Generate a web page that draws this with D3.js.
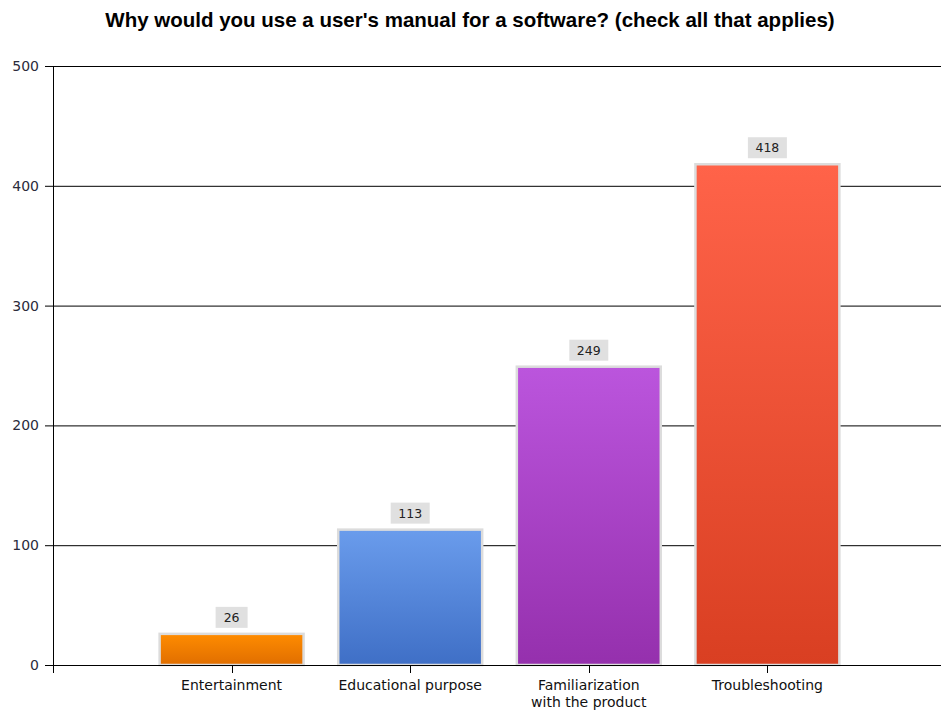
<!DOCTYPE html>
<html>
<head>
<meta charset="utf-8">
<script src="https://cdn.jsdelivr.net/npm/d3@7"></script>
<style>
  body { margin: 0; background: #fff; }
  text { font-family: "DejaVu Sans", sans-serif; }
  text.chart-title { font-family: "Liberation Sans", Arial, sans-serif; }
</style>
</head>
<body>
<div id="chart"></div>
<script>
const categories = ['Entertainment', 'Educational purpose', 'Familiarization\nwith the product', 'Troubleshooting'];
const counts = [26, 113, 249, 418];
const yTicks = [0, 100, 200, 300, 400, 500];
const barColors = [
    ['#ff8c00', '#e06e00'],
    ['#6a9cec', '#3f6fc6'],
    ['#bb55dd', '#9530ad'],
    ['#ff6349', '#d93f22']
];

const width = 941;
const height = 713;
const margin = { top: 66, right: 0, bottom: 48, left: 53 };

const svg = d3.select('#chart').append('svg')
    .attr('width', width)
    .attr('height', height);

const defs = svg.append('defs');
barColors.forEach((pair, index) => {
    const grad = defs.append('linearGradient')
        .attr('id', `bar-grad-${index}`)
        .attr('x1', 0).attr('y1', 0).attr('x2', 0).attr('y2', 1);
    grad.append('stop').attr('offset', '0%').attr('stop-color', pair[0]);
    grad.append('stop').attr('offset', '100%').attr('stop-color', pair[1]);
});

svg.append('text')
    .attr('class', 'chart-title')
    .attr('x', 470)
    .attr('y', 27)
    .attr('text-anchor', 'middle')
    .attr('font-size', 20.5)
    .attr('font-weight', 700)
    .attr('fill', '#000')
    .text("Why would you use a user's manual for a software? (check all that applies)");

const plotRight = 946;
const yScale = d3.scaleLinear()
    .domain([0, 500])
    .range([height - margin.bottom, margin.top]);

const xScale = d3.scalePoint()
    .domain(categories)
    .range([margin.left, plotRight])
    .padding(1);

const barWidth = xScale.step() * 0.806;

// gridlines
svg.append('g')
    .selectAll('line')
    .data(yTicks)
    .enter()
    .append('line')
    .attr('x1', margin.left - 8)
    .attr('x2', width)
    .attr('y1', (d) => yScale(d) + 0.5)
    .attr('y2', (d) => yScale(d) + 0.5)
    .attr('stroke', '#000')
    .attr('stroke-width', 1);

svg.append('g')
    .selectAll('text')
    .data(yTicks)
    .enter()
    .append('text')
    .attr('x', margin.left - 14)
    .attr('y', (d) => yScale(d))
    .attr('dy', '0.35em')
    .attr('text-anchor', 'end')
    .attr('font-size', 14)
    .attr('fill', '#2b2b3b')
    .text((d) => d);

// bars
const barGroup = svg.append('g');
barGroup.selectAll('rect')
    .data(counts)
    .enter()
    .append('rect')
    .attr('x', (d, i) => xScale(categories[i]) - barWidth / 2)
    .attr('y', (d) => yScale(d))
    .attr('width', barWidth)
    .attr('height', (d) => yScale(0) - yScale(d))
    .attr('fill', (d, i) => `url(#bar-grad-${i})`)
    .attr('stroke', '#dcdcdc')
    .attr('stroke-width', 2.5);

// axes lines on top
svg.append('line')
    .attr('x1', margin.left + 0.5).attr('x2', margin.left + 0.5)
    .attr('y1', margin.top).attr('y2', yScale(0) + 8)
    .attr('stroke', '#000');
svg.append('line')
    .attr('x1', margin.left - 8).attr('x2', width)
    .attr('y1', yScale(0) + 0.5).attr('y2', yScale(0) + 0.5)
    .attr('stroke', '#000');

svg.append('g')
    .selectAll('line')
    .data(categories)
    .enter()
    .append('line')
    .attr('x1', (d) => Math.round(xScale(d)) + 0.5)
    .attr('x2', (d) => Math.round(xScale(d)) + 0.5)
    .attr('y1', yScale(0))
    .attr('y2', yScale(0) + 8)
    .attr('stroke', '#000');

// category labels
const labels = svg.append('g')
    .selectAll('text')
    .data(categories)
    .enter()
    .append('text')
    .attr('text-anchor', 'middle')
    .attr('font-size', 14)
    .attr('fill', '#111');
labels.each(function (d) {
    const lines = d.split('\n');
    lines.forEach((line, i) => {
        d3.select(this).append('tspan')
            .attr('x', xScale(d))
            .attr('y', yScale(0) + 25 + i * 17)
            .text(line);
    });
});

// value labels
const valueGroups = svg.append('g')
    .selectAll('g')
    .data(counts)
    .enter()
    .append('g');

valueGroups.append('rect')
    .attr('x', (d, i) => xScale(categories[i]) - (String(d).length > 2 ? 19.5 : 16))
    .attr('y', (d) => yScale(d) - 27)
    .attr('width', (d) => (String(d).length > 2 ? 39 : 32))
    .attr('height', 21)
    .attr('fill', '#e0e0e0');

valueGroups.append('text')
    .attr('x', (d, i) => xScale(categories[i]))
    .attr('y', (d) => yScale(d) - 16.5)
    .attr('dy', '0.35em')
    .attr('text-anchor', 'middle')
    .attr('font-size', 12.5)
    .attr('fill', '#222')
    .text((d) => d);
</script>
</body>
</html>
